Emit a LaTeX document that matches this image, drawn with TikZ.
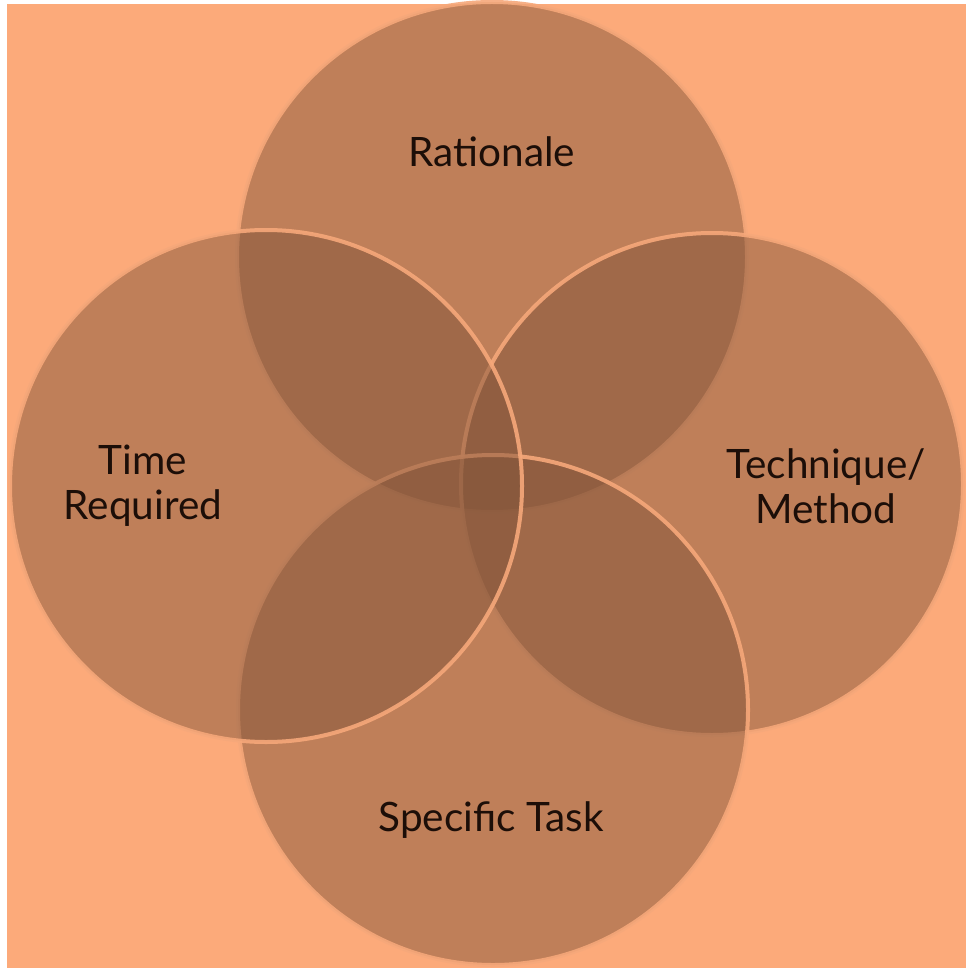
\documentclass[tikz,border=0pt]{standalone}
\usepackage{fontspec}
\setmainfont{Lato}
\definecolor{bgpeach}{RGB}{252,170,122}
\definecolor{circfill}{RGB}{131,85,58}
\definecolor{circline}{RGB}{246,168,122}
\definecolor{txt}{RGB}{28,14,8}
\begin{document}
\begin{tikzpicture}[x=1pt,y=-1pt,
  ring/.style={fill=circfill,fill opacity=0.5,draw=circline,draw opacity=0.9,line width=4pt},
  lbl/.style={text=txt,font=\fontsize{40.5}{45}\selectfont,align=center,inner sep=0pt}]
\useasboundingbox (0,0) rectangle (966,968);
\fill[white] (0,0) rectangle (966,968);
\fill[bgpeach] (7,4) rectangle (966,968);
\draw[ring] (492,257) circle (255);
\draw[ring] (712,484) circle (251);
\draw[ring] (493,710) circle (255);
\draw[ring] (266,486) circle (256);
\node[lbl] (rat) at (492,152) {Rationale};
\node[lbl] (time) at (143,486) {Time\\Required};
\node[lbl] (tech) at (826,486) {Technique/\\Method};
\node[lbl] (task) at (491,820) {Specific Task};
\end{tikzpicture}
\end{document}
